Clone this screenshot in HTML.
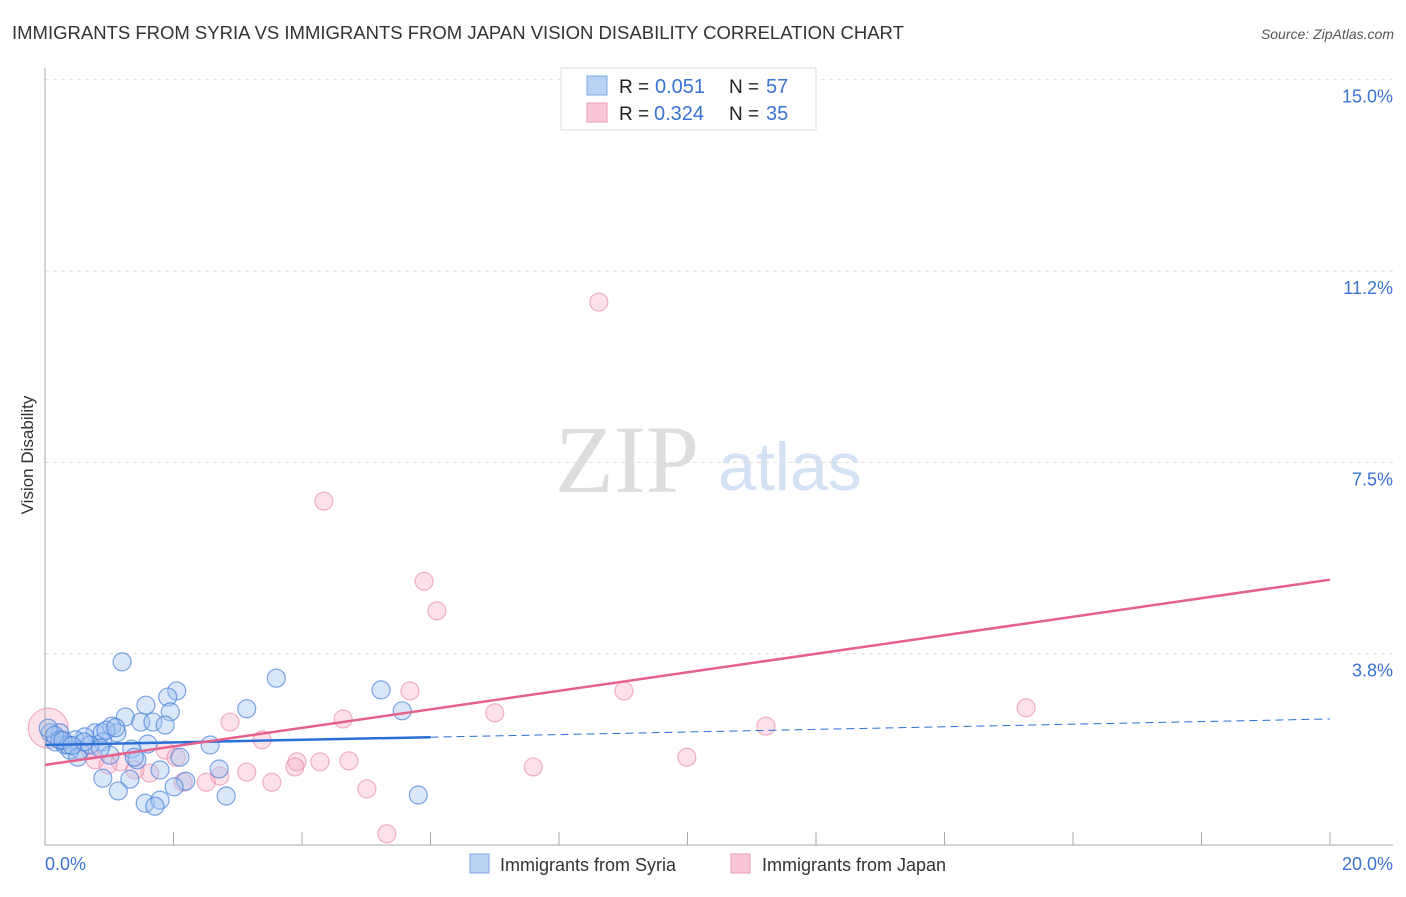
<!DOCTYPE html>
<html><head><meta charset="utf-8"><style>
body{margin:0;background:#fff;font-family:"Liberation Sans",sans-serif;}
svg text{font-family:"Liberation Sans",sans-serif;}
</style></head><body>
<svg id="c" width="1406" height="892">
<text x="12" y="39" font-size="18.5" fill="#333">IMMIGRANTS FROM SYRIA VS IMMIGRANTS FROM JAPAN VISION DISABILITY CORRELATION CHART</text>
<text x="1394" y="39" font-size="14" fill="#555" font-style="italic" text-anchor="end">Source: ZipAtlas.com</text>
<text x="33" y="455" font-size="17" fill="#333" text-anchor="middle" transform="rotate(-90 33 455)">Vision Disability</text>
<text x="555" y="492" font-size="96" fill="#ddd" style="font-family:'Liberation Serif',serif">ZIP</text>
<text x="718" y="490" font-size="68" fill="#d3e2f5">atlas</text>
<g id="grid"></g><g id="pts"></g><g id="lines"></g>
<line x1="45" y1="68" x2="45" y2="845" stroke="#aaa"/>
<line x1="45" y1="845" x2="1393" y2="845" stroke="#aaa"/>
<text x="45" y="870" font-size="18" fill="#3b73d1">0.0%</text>
<text x="1393" y="870" font-size="18" fill="#3b73d1" text-anchor="end">20.0%</text>
<g>
<rect x="561" y="68" width="255" height="62" fill="#fff" stroke="#ddd"/>
<rect x="587" y="76" width="20" height="19" fill="#b9d3f5" stroke="#7fa9e6"/>
<rect x="587" y="103" width="20" height="19" fill="#f9c7d7" stroke="#ea9bb5"/>
<text x="619" y="93" font-size="19" fill="#222">R =</text>
<text x="655" y="93" font-size="20" fill="#3b73d1">0.051</text>
<text x="729" y="93" font-size="19" fill="#222">N =</text>
<text x="766" y="93" font-size="20" fill="#3b73d1">57</text>
<text x="619" y="120" font-size="19" fill="#222">R =</text>
<text x="654" y="120" font-size="20" fill="#3b73d1">0.324</text>
<text x="729" y="120" font-size="19" fill="#222">N =</text>
<text x="766" y="120" font-size="20" fill="#3b73d1">35</text>
</g>
<g>
<rect x="470" y="854" width="19" height="19" fill="#b9d3f5" stroke="#7fa9e6"/>
<text x="500" y="871" font-size="18" fill="#333">Immigrants from Syria</text>
<rect x="731" y="854" width="19" height="19" fill="#f9c7d7" stroke="#ea9bb5"/>
<text x="762" y="871" font-size="18" fill="#333">Immigrants from Japan</text>
</g>
</svg>
<script>
const yTicks=[3.75,7.5,11.25,15];
const yTickLabels=["3.8%","7.5%","11.2%","15.0%"];
const xTicks=[2,4,6,8,10,12,14,16,18,20];
const syriaX=[1.20,2.05,1.91,1.57,1.95,3.14,3.60,5.23,5.56,1.25,1.04,1.49,1.68,1.87,0.78,0.62,0.89,1.12,0.23,0.08,0.16,0.31,0.47,0.54,0.90,0.39,1.60,2.57,2.10,1.35,1.43,1.01,1.79,2.71,0.90,1.32,2.19,2.01,1.14,1.56,1.79,1.71,2.82,5.81,0.36,0.70,0.86,0.05,0.23,0.51,0.61,1.39,0.15,0.28,0.95,1.10,0.42];
const syriaY=[3.59,3.02,2.90,2.74,2.61,2.67,3.27,3.04,2.63,2.51,2.33,2.41,2.41,2.35,2.20,2.12,2.20,2.20,2.20,2.20,2.02,1.96,2.06,1.86,2.02,1.86,1.98,1.96,1.72,1.88,1.67,1.76,1.47,1.49,1.31,1.29,1.25,1.14,1.06,0.82,0.88,0.76,0.96,0.98,1.96,1.96,1.90,2.29,2.06,1.72,2.02,1.72,2.15,2.05,2.25,2.30,1.95];
const japanX=[8.62,4.34,5.90,6.10,5.68,9.01,15.27,7.00,11.22,4.64,2.88,3.38,9.99,7.60,4.28,4.73,3.92,3.89,3.14,3.53,5.01,5.32,2.72,2.51,1.63,1.87,2.04,1.17,0.78,0.98,0.23,0.70,2.15,1.40,0.05];
const japanY=[10.64,6.74,5.17,4.59,3.02,3.02,2.69,2.59,2.33,2.47,2.41,2.06,1.72,1.53,1.63,1.65,1.63,1.53,1.43,1.23,1.10,0.22,1.35,1.23,1.41,1.86,1.72,1.63,1.67,1.57,2.06,1.86,1.23,1.47,2.29];
const japanR=[9,9,9,9,9,9,9,9,9,9,9,9,9,9,9,9,9,9,9,9,9,9,9,9,9,9,9,9,9,9,9,9,9,9,20];
const syriaTrend=[1.96,2.47];
const japanTrend=[1.57,5.20];
const X=v=>45+v*64.25, Y=v=>845-v*51.02;
const NS="http://www.w3.org/2000/svg";
function mk(t,a,p){const e=document.createElementNS(NS,t);for(const k in a)e.setAttribute(k,a[k]);document.getElementById(p).appendChild(e);return e;}
yTicks.forEach((t,i)=>{
 const l=mk('line',{x1:45,x2:1393,y1:Y(t),y2:Y(t),stroke:'#ddd','stroke-dasharray':'4,4'},'grid');
 
 
 const tx=mk('text',{x:1393,y:Y(t)+23,'font-size':18,fill:'#3b73d1','text-anchor':'end'},'grid');
 tx.textContent=yTickLabels[i];
 
 
});
xTicks.forEach(t=>{
 const l=mk('line',{x1:X(t),x2:X(t),y1:832,y2:845,stroke:'#aaa'},'grid');
 
 
});
japanX.forEach((v,i)=>{
 const c=mk('circle',{cx:X(v),cy:Y(japanY[i]),r:japanR[i],fill:'rgba(246,170,195,0.35)',stroke:'rgba(232,130,165,0.6)','stroke-width':1.2},'pts');
 
 
});
syriaX.forEach((v,i)=>{
 const c=mk('circle',{cx:X(v),cy:Y(syriaY[i]),r:9,fill:'rgba(160,195,240,0.4)',stroke:'rgba(60,120,215,0.65)','stroke-width':1.2},'pts');
 
 
});
const sy=x=>syriaTrend[0]+(syriaTrend[1]-syriaTrend[0])*x/20;
let l1=mk('line',{x1:X(0),y1:Y(sy(0)),x2:X(6),y2:Y(sy(6)),stroke:'#2a6fd6','stroke-width':2.5},'lines');


let l2=mk('line',{x1:X(6),y1:Y(sy(6)),x2:X(20),y2:Y(sy(20)),stroke:'#2a6fd6','stroke-width':1,'stroke-dasharray':'8,5'},'lines');


let l3=mk('line',{x1:X(0),y1:Y(japanTrend[0]),x2:X(20),y2:Y(japanTrend[1]),stroke:'#e5608c','stroke-width':2.5},'lines');


</script>
</body></html>
